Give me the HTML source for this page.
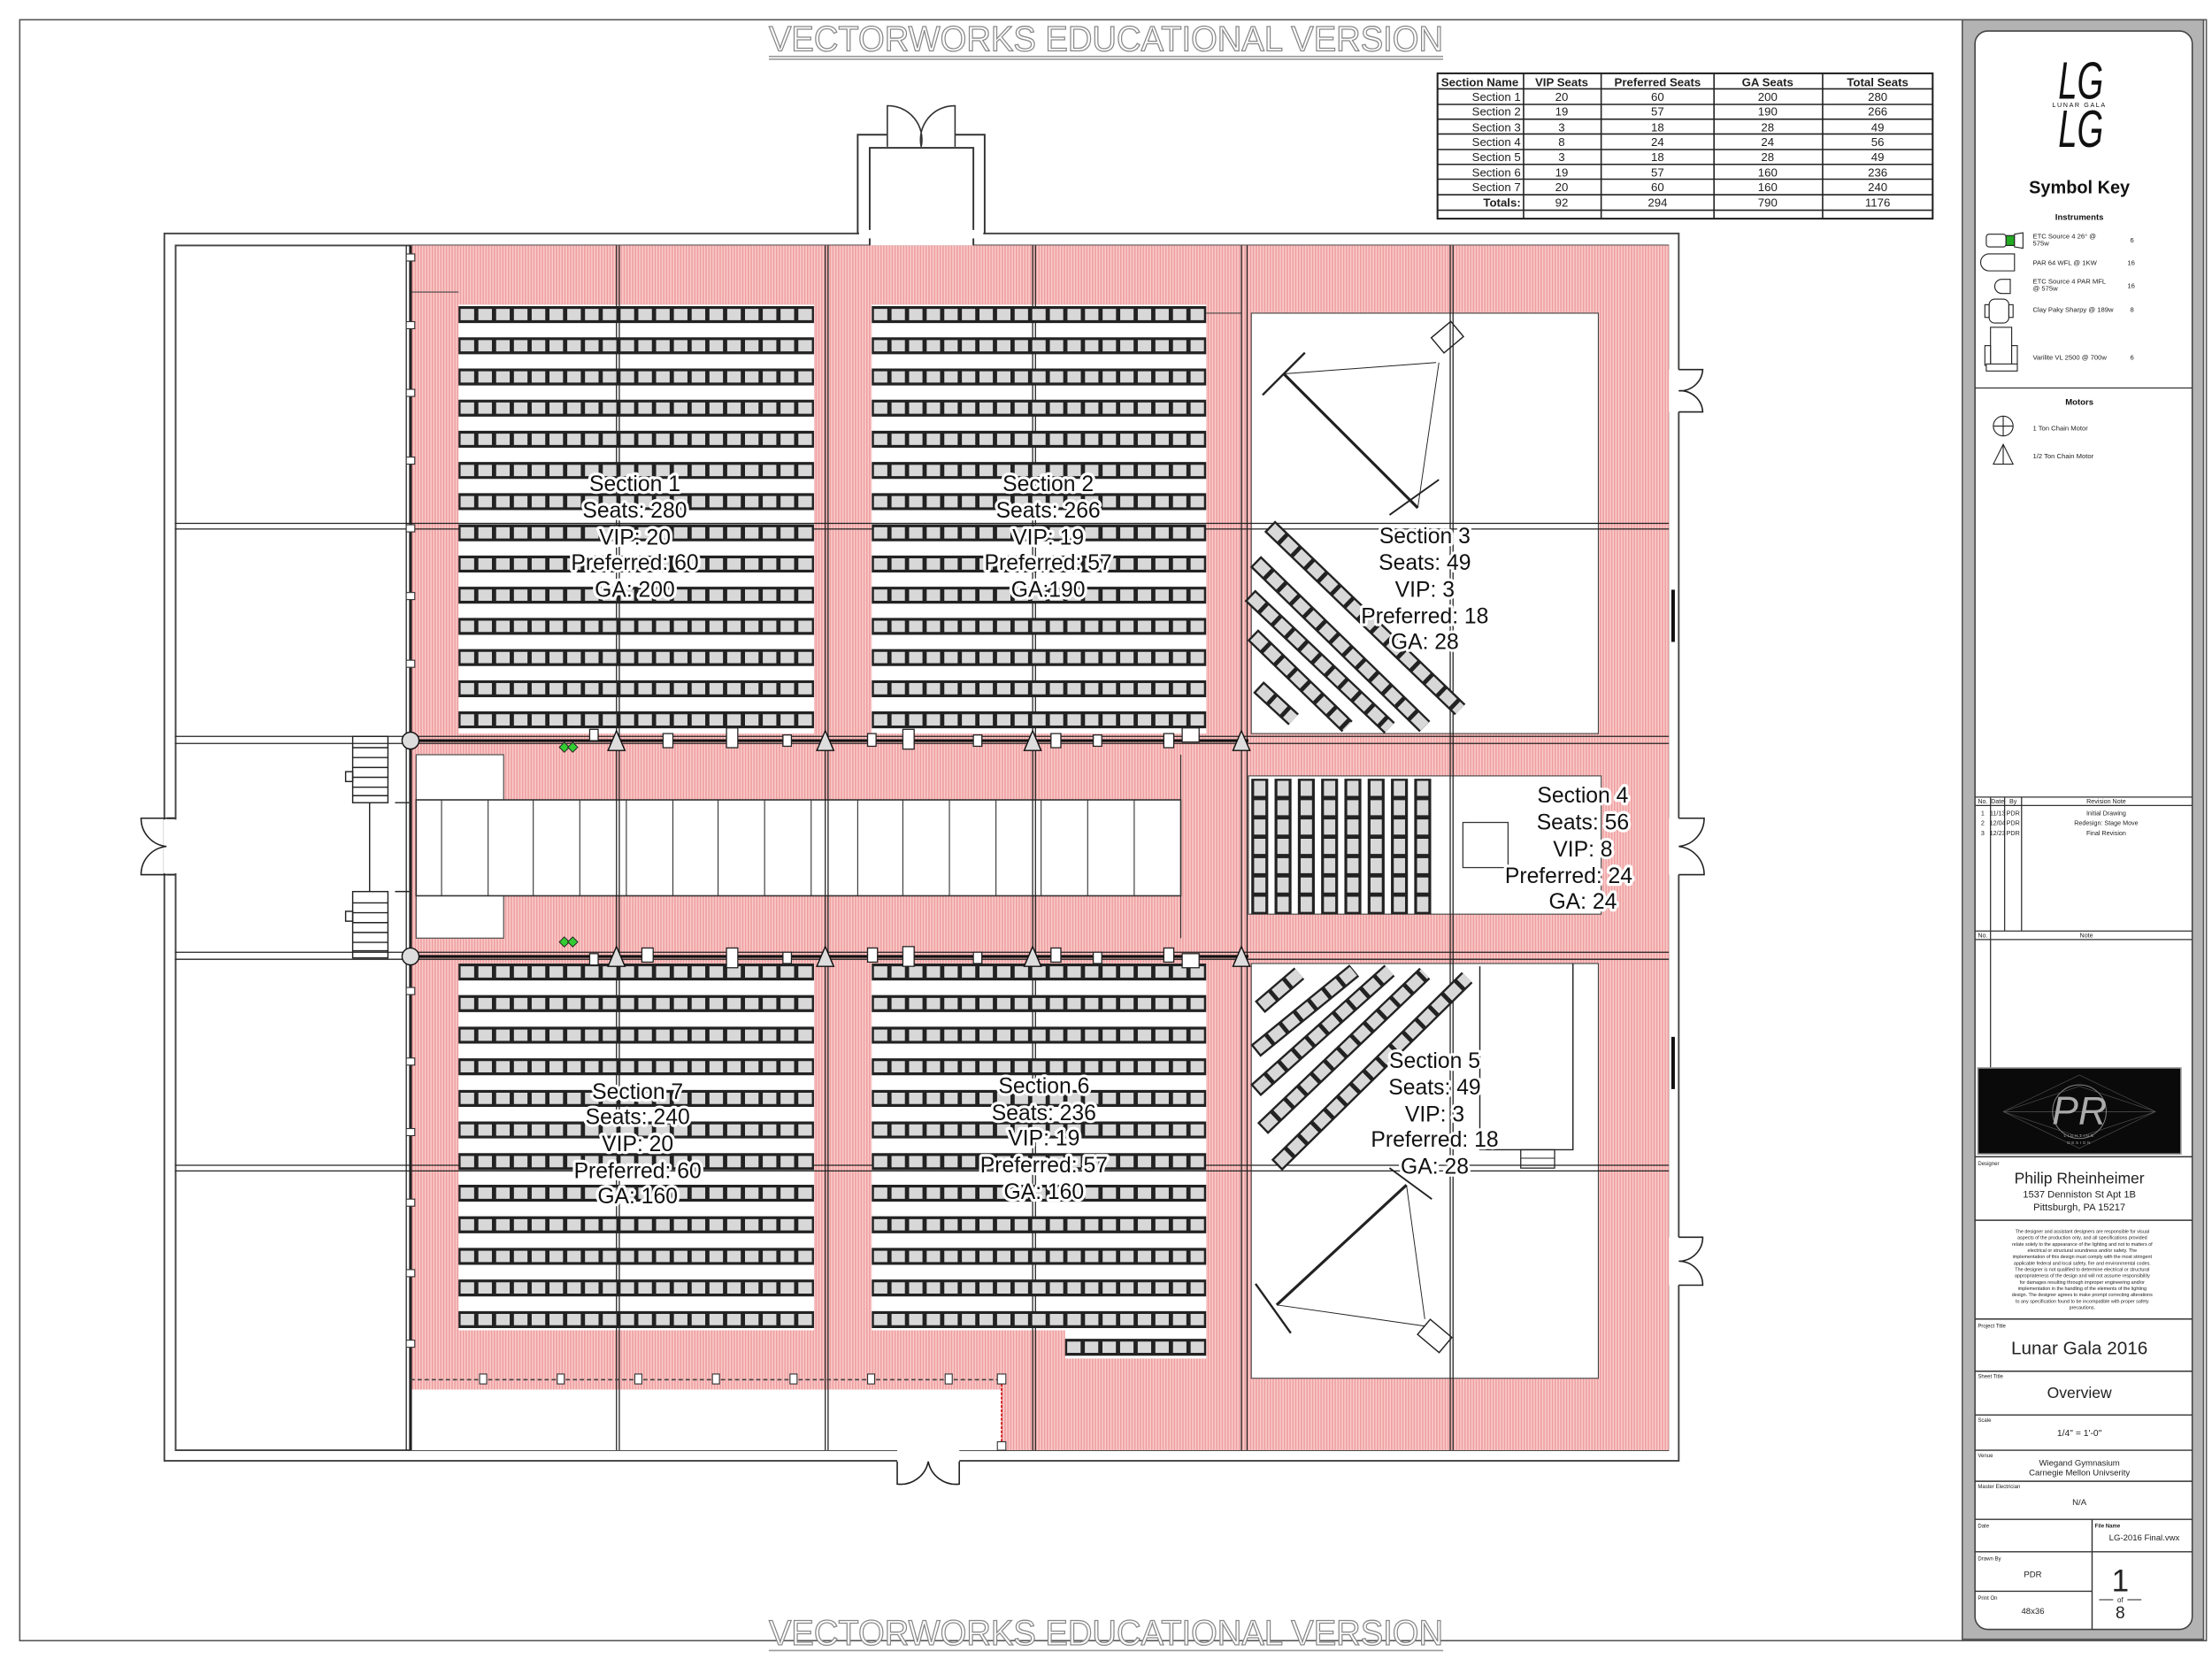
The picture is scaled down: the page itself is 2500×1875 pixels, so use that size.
<!DOCTYPE html>
<html><head><meta charset="utf-8"><style>
html,body{margin:0;padding:0;background:#fff;}
svg{display:block;}
text{font-family:"Liberation Sans",Arial,sans-serif;}
</style></head><body>
<svg width="2500" height="1875" viewBox="0 0 1568 1176" xmlns="http://www.w3.org/2000/svg">
<defs>
<pattern id="pk" width="2" height="4" patternUnits="userSpaceOnUse">
<rect width="2" height="4" fill="#f9cccc"/><rect width="1" height="4" fill="#ef9e9e"/>
</pattern>
<g id="r1"><line x1="325" y1="0" x2="577" y2="0" stroke="#222" stroke-width="12"/><line x1="325" y1="0" x2="577" y2="0" stroke="#d8d8d8" stroke-width="8" stroke-dasharray="9.6 3" stroke-dashoffset="-1.5"/></g>
<g id="r2"><line x1="618" y1="0" x2="855" y2="0" stroke="#222" stroke-width="12"/><line x1="618" y1="0" x2="855" y2="0" stroke="#d8d8d8" stroke-width="8" stroke-dasharray="9.47 3" stroke-dashoffset="-1.5"/></g>
<g id="c4"><line x1="0" y1="552" x2="0" y2="648" stroke="#222" stroke-width="12"/><line x1="0" y1="552" x2="0" y2="648" stroke="#d8d8d8" stroke-width="8" stroke-dasharray="10.7 3" stroke-dashoffset="-1.5"/></g>
</defs>
<rect width="1568" height="1176" fill="#fff"/>
<rect x="14" y="14" width="1550" height="1149" fill="none" stroke="#555" stroke-width="1"/>

<g fill="#fff" stroke="#888" stroke-width="0.8">
<text x="545" y="36" font-size="25" textLength="478" lengthAdjust="spacingAndGlyphs">VECTORWORKS EDUCATIONAL VERSION</text>
<text x="545" y="1166" font-size="25" textLength="478" lengthAdjust="spacingAndGlyphs">VECTORWORKS EDUCATIONAL VERSION</text>
</g>
<g stroke="#999" stroke-width="1"><line x1="545" y1="40" x2="1023" y2="40"/><line x1="545" y1="42" x2="1023" y2="42"/><line x1="545" y1="1170" x2="1023" y2="1170"/></g>

<rect x="116.5" y="165.5" width="1073.5" height="870" fill="none" stroke="#444" stroke-width="1.2"/>
<rect x="124.5" y="174" width="1058" height="854" fill="#fff" stroke="#444" stroke-width="1.2"/>
<path d="M608 166 V95.5 H629 M677 95.5 H698 V166" fill="none" stroke="#333" stroke-width="1.2"/>
<path d="M616.5 174 V104.8 H690 V174" fill="#fff" stroke="#333" stroke-width="1.2"/>
<rect x="609" y="163" width="88" height="6" fill="#fff"/>
<path d="M629 104 V75 A24 24 0 0 1 653 104 M677 104 V75 A24 24 0 0 0 653 104" fill="none" stroke="#333" stroke-width="1"/>

<rect x="291" y="174" width="892" height="854" fill="url(#pk)"/>
<rect x="887" y="222" width="246" height="298" fill="#fff" stroke="#444" stroke-width="0.7"/>
<rect x="887" y="683" width="246" height="294" fill="#fff" stroke="#444" stroke-width="0.7"/>
<rect x="885" y="550" width="250" height="98" fill="#fff" stroke="#444" stroke-width="0.7"/>
<rect x="291" y="985" width="419" height="43" fill="#fff"/>
<rect x="325" y="216" width="252" height="304" fill="#fff"/>
<rect x="618" y="216" width="237" height="304" fill="#fff"/>
<rect x="325" y="683" width="252" height="260" fill="#fff"/>
<rect x="618" y="683" width="237" height="260" fill="#fff"/>
<rect x="755" y="943" width="100" height="20" fill="#fff"/>
<path d="M292 207 H325 M855 222 H880" stroke="#444" stroke-width="0.7"/>
<rect x="295" y="535" width="62" height="32" fill="#fff" stroke="#444" stroke-width="0.7"/>
<rect x="295" y="635" width="62" height="30" fill="#fff" stroke="#444" stroke-width="0.7"/>
<rect x="295" y="567" width="542" height="68" fill="#fff" stroke="#333" stroke-width="1"/>
<g stroke="#333" stroke-width="0.7">
<line x1="313" y1="567" x2="313" y2="635"/><line x1="346" y1="567" x2="346" y2="635"/><line x1="378" y1="567" x2="378" y2="635"/><line x1="411" y1="567" x2="411" y2="635"/><line x1="444" y1="567" x2="444" y2="635"/><line x1="477" y1="567" x2="477" y2="635"/><line x1="509" y1="567" x2="509" y2="635"/><line x1="542" y1="567" x2="542" y2="635"/><line x1="575" y1="567" x2="575" y2="635"/><line x1="608" y1="567" x2="608" y2="635"/><line x1="640" y1="567" x2="640" y2="635"/><line x1="673" y1="567" x2="673" y2="635"/><line x1="706" y1="567" x2="706" y2="635"/><line x1="738" y1="567" x2="738" y2="635"/><line x1="771" y1="567" x2="771" y2="635"/><line x1="804" y1="567" x2="804" y2="635"/>
<line x1="837" y1="535" x2="837" y2="665"/>
</g>

<g stroke="#222" stroke-width="0.8" fill="none">
<line x1="437" y1="174" x2="437" y2="1028"/><line x1="439" y1="174" x2="439" y2="1028"/>
<line x1="585" y1="174" x2="585" y2="1028"/><line x1="587" y1="174" x2="587" y2="1028"/>
<line x1="732" y1="174" x2="732" y2="1028"/><line x1="734" y1="174" x2="734" y2="1028"/>
<line x1="880" y1="174" x2="880" y2="1028"/><line x1="884" y1="174" x2="884" y2="1028"/>
<line x1="1028" y1="174" x2="1028" y2="1028"/><line x1="1030" y1="174" x2="1030" y2="1028"/>
<line x1="124" y1="371" x2="1183" y2="371"/><line x1="124" y1="375" x2="1183" y2="375"/>
<line x1="124" y1="826" x2="1183" y2="826"/><line x1="124" y1="830" x2="1183" y2="830"/>
<line x1="124" y1="522" x2="1183" y2="522"/><line x1="124" y1="527" x2="1183" y2="527"/>
<line x1="124" y1="675" x2="1183" y2="675"/><line x1="124" y1="680" x2="1183" y2="680"/>
<line x1="288" y1="174" x2="288" y2="1028"/>
</g>
<line x1="291" y1="174" x2="291" y2="1028" stroke="#222" stroke-width="2"/>
<line x1="291" y1="978" x2="710" y2="978" stroke="#444" stroke-width="1" stroke-dasharray="3 2"/>
<line x1="710" y1="978" x2="710" y2="1028" stroke="#c00" stroke-width="1" stroke-dasharray="2 1"/>
<g fill="#fff" stroke="#333" stroke-width="0.7">
<rect x="288" y="180" width="6" height="5"/><rect x="288" y="228" width="6" height="5"/><rect x="288" y="276" width="6" height="5"/><rect x="288" y="324" width="6" height="5"/><rect x="288" y="372" width="6" height="5"/><rect x="288" y="420" width="6" height="5"/><rect x="288" y="468" width="6" height="5"/><rect x="288" y="700" width="6" height="5"/><rect x="288" y="750" width="6" height="5"/><rect x="288" y="800" width="6" height="5"/><rect x="288" y="850" width="6" height="5"/><rect x="288" y="900" width="6" height="5"/><rect x="288" y="950" width="6" height="5"/>
<rect x="340" y="974" width="5" height="7"/><rect x="395" y="974" width="5" height="7"/><rect x="450" y="974" width="5" height="7"/><rect x="505" y="974" width="5" height="7"/><rect x="560" y="974" width="5" height="7"/><rect x="615" y="974" width="5" height="7"/><rect x="670" y="974" width="5" height="7"/><rect x="707" y="974" width="6" height="7"/><rect x="707" y="1022" width="6" height="6"/>
</g>

<use href="#r1" y="223"/><use href="#r1" y="245.1"/><use href="#r1" y="267.2"/><use href="#r1" y="289.3"/><use href="#r1" y="311.4"/><use href="#r1" y="333.5"/><use href="#r1" y="355.6"/><use href="#r1" y="377.7"/><use href="#r1" y="399.8"/><use href="#r1" y="421.9"/><use href="#r1" y="444"/><use href="#r1" y="466.1"/><use href="#r1" y="488.2"/><use href="#r1" y="510.3"/>
<use href="#r2" y="223"/><use href="#r2" y="245.1"/><use href="#r2" y="267.2"/><use href="#r2" y="289.3"/><use href="#r2" y="311.4"/><use href="#r2" y="333.5"/><use href="#r2" y="355.6"/><use href="#r2" y="377.7"/><use href="#r2" y="399.8"/><use href="#r2" y="421.9"/><use href="#r2" y="444"/><use href="#r2" y="466.1"/><use href="#r2" y="488.2"/><use href="#r2" y="510.3"/>
<use href="#r1" y="689"/><use href="#r1" y="711.4"/><use href="#r1" y="733.8"/><use href="#r1" y="756.2"/><use href="#r1" y="778.6"/><use href="#r1" y="801"/><use href="#r1" y="823.4"/><use href="#r1" y="845.8"/><use href="#r1" y="868.2"/><use href="#r1" y="890.6"/><use href="#r1" y="913"/><use href="#r1" y="935.4"/>
<use href="#r2" y="689"/><use href="#r2" y="711.4"/><use href="#r2" y="733.8"/><use href="#r2" y="756.2"/><use href="#r2" y="778.6"/><use href="#r2" y="801"/><use href="#r2" y="823.4"/><use href="#r2" y="845.8"/><use href="#r2" y="868.2"/><use href="#r2" y="890.6"/><use href="#r2" y="913"/><use href="#r2" y="935.4"/>
<line x1="755" y1="955" x2="855" y2="955" stroke="#222" stroke-width="12"/><line x1="755" y1="955" x2="855" y2="955" stroke="#d8d8d8" stroke-width="8" stroke-dasharray="9.5 3" stroke-dashoffset="-1.5"/>
<use href="#c4" x="893"/><use href="#c4" x="909.5"/><use href="#c4" x="926"/><use href="#c4" x="942.5"/><use href="#c4" x="959"/><use href="#c4" x="975.5"/><use href="#c4" x="992"/><use href="#c4" x="1008.5"/>
<rect x="1037" y="583" width="32" height="32" fill="#fff" stroke="#333" stroke-width="0.8"/>

<g stroke-linecap="butt">
<g stroke="#222" stroke-width="11">
<line x1="900" y1="373" x2="1035" y2="503"/><line x1="890" y1="398" x2="1010" y2="515"/><line x1="886" y1="422" x2="985" y2="516"/><line x1="888" y1="450" x2="955" y2="515"/><line x1="892" y1="487" x2="917" y2="510"/>
<line x1="905" y1="826" x2="1040" y2="693"/><line x1="895" y1="800" x2="1010" y2="690"/><line x1="890" y1="773" x2="985" y2="688"/><line x1="890" y1="745" x2="960" y2="688"/><line x1="893" y1="714" x2="921" y2="690"/>
</g>
<g stroke="#d8d8d8" stroke-width="8" stroke-dasharray="10 3" stroke-dashoffset="-1.5">
<line x1="900" y1="373" x2="1035" y2="503"/><line x1="890" y1="398" x2="1010" y2="515"/><line x1="886" y1="422" x2="985" y2="516"/><line x1="888" y1="450" x2="955" y2="515"/><line x1="892" y1="487" x2="917" y2="510"/>
<line x1="905" y1="826" x2="1040" y2="693"/><line x1="895" y1="800" x2="1010" y2="690"/><line x1="890" y1="773" x2="985" y2="688"/><line x1="890" y1="745" x2="960" y2="688"/><line x1="893" y1="714" x2="921" y2="690"/>
</g></g>
<g fill="none" stroke="#222">
<path d="M910 265 L1005 360" stroke-width="2"/><path d="M895 280 L925 250" stroke-width="1.5"/><path d="M985 365 L1020 340" stroke-width="1.2"/>
<path d="M910 265 L1018 257 M1005 360 L1020 257" stroke-width="0.6"/>
<rect x="1017" y="232" width="18" height="14" transform="rotate(-40 1026 239)" stroke-width="0.9"/>
<path d="M905 925 L997 840" stroke-width="2"/><path d="M890 910 L915 945" stroke-width="1.5"/><path d="M985 828 L1015 850" stroke-width="1.2"/>
<path d="M905 925 L1010 940 M997 840 L1010 935" stroke-width="0.6"/>
<rect x="1007" y="940" width="20" height="14" transform="rotate(40 1017 947)" stroke-width="0.9"/>
<path d="M1049 685 V815 H1115 V683" stroke-width="0.9"/><rect x="1078" y="815" width="24" height="13" stroke-width="0.8"/><line x1="1078" y1="821" x2="1102" y2="821" stroke-width="0.6"/>
</g>

<g stroke="#111" stroke-width="2"><line x1="290" y1="525" x2="885" y2="525"/><line x1="290" y1="678" x2="885" y2="678"/></g>
<g fill="#fff" stroke="#222" stroke-width="0.8">
<rect x="418" y="517" width="6" height="8"/><rect x="470" y="520" width="7" height="10"/><rect x="515" y="516" width="8" height="14"/><rect x="555" y="521" width="6" height="8"/><rect x="615" y="520" width="6" height="9"/><rect x="640" y="517" width="8" height="14"/><rect x="690" y="521" width="6" height="8"/><rect x="745" y="520" width="7" height="10"/><rect x="775" y="521" width="6" height="8"/><rect x="825" y="520" width="7" height="10"/><rect x="838" y="516" width="12" height="10"/>
<rect x="418" y="676" width="6" height="8"/><rect x="455" y="672" width="8" height="10"/><rect x="515" y="672" width="8" height="14"/><rect x="555" y="675" width="6" height="8"/><rect x="615" y="672" width="7" height="10"/><rect x="640" y="671" width="8" height="14"/><rect x="690" y="675" width="6" height="8"/><rect x="745" y="672" width="7" height="10"/><rect x="775" y="675" width="6" height="8"/><rect x="825" y="672" width="7" height="10"/><rect x="838" y="676" width="12" height="10"/>
</g>
<g fill="#ddd" stroke="#111" stroke-width="0.9">
<path d="M437 518 L431 532 H443 Z"/><path d="M585 518 L579 532 H591 Z"/><path d="M732 518 L726 532 H738 Z"/><path d="M880 518 L874 532 H886 Z"/>
<path d="M437 671 L431 685 H443 Z"/><path d="M585 671 L579 685 H591 Z"/><path d="M732 671 L726 685 H738 Z"/><path d="M880 671 L874 685 H886 Z"/>
<circle cx="291" cy="525" r="6"/><circle cx="291" cy="678" r="6"/>
</g>
<g fill="#3c3" stroke="#222" stroke-width="0.6"><rect x="398" y="527" width="5" height="5" transform="rotate(45 400 529)"/><rect x="404" y="527" width="5" height="5" transform="rotate(45 406 529)"/><rect x="398" y="665" width="5" height="5" transform="rotate(45 400 667)"/><rect x="404" y="665" width="5" height="5" transform="rotate(45 406 667)"/></g>

<g stroke="#222" stroke-width="0.9" fill="none">
<rect x="250" y="522" width="25" height="47"/><rect x="250" y="632" width="25" height="47"/>
<path d="M250 530 H275 M250 537 H275 M250 544 H275 M250 551 H275 M250 558 H275 M250 564 H275 M250 640 H275 M250 647 H275 M250 654 H275 M250 661 H275 M250 668 H275 M250 674 H275"/>
<rect x="245" y="547" width="5" height="7"/><rect x="245" y="646" width="5" height="7"/>
<path d="M280 569 H290 M280 632 H290 M262 569 V632"/>
<rect x="116" y="581" width="10" height="38" fill="#fff" stroke="none"/>
<path d="M124 580 H118 M124 620 H118" stroke-width="1.2"/>
<path d="M118 580 H100 A20 20 0 0 0 118 600 A20 20 0 0 0 100 620 H118" stroke-width="1"/>
<rect x="636" y="1027" width="44" height="10" fill="#fff" stroke="none"/>
<path d="M636 1036 V1052 A20 20 0 0 0 658 1036 A20 20 0 0 0 680 1052 V1036" stroke-width="1"/>
<rect x="1183" y="262" width="9" height="30" fill="#fff" stroke="none"/>
<path d="M1190 262 H1207 A16 16 0 0 1 1190 277 A16 16 0 0 1 1207 292 H1190" stroke-width="1"/>
<rect x="1183" y="580" width="9" height="40" fill="#fff" stroke="none"/>
<path d="M1190 580 H1208 A20 20 0 0 1 1190 600 A20 20 0 0 1 1208 620 H1190" stroke-width="1"/>
<rect x="1183" y="877" width="9" height="34" fill="#fff" stroke="none"/>
<path d="M1190 877 H1207 A17 17 0 0 1 1190 894 A17 17 0 0 1 1207 911 H1190" stroke-width="1"/>
</g>
<g stroke="#111" stroke-width="2.5"><line x1="1186" y1="418" x2="1186" y2="455"/><line x1="1186" y1="735" x2="1186" y2="772"/></g>

<g font-size="15.5" text-anchor="middle" fill="#111" stroke="#fff" stroke-width="4" paint-order="stroke" stroke-linejoin="round">
<text x="450" y="348">Section 1</text><text x="450" y="367">Seats: 280</text><text x="450" y="386">VIP: 20</text><text x="450" y="404">Preferred: 60</text><text x="450" y="423">GA: 200</text>
<text x="743" y="348">Section 2</text><text x="743" y="367">Seats: 266</text><text x="743" y="386">VIP: 19</text><text x="743" y="404">Preferred: 57</text><text x="743" y="423">GA:190</text>
<text x="1010" y="385">Section 3</text><text x="1010" y="404">Seats: 49</text><text x="1010" y="423">VIP: 3</text><text x="1010" y="442">Preferred: 18</text><text x="1010" y="460">GA: 28</text>
<text x="1122" y="569">Section 4</text><text x="1122" y="588">Seats: 56</text><text x="1122" y="607">VIP: 8</text><text x="1112" y="626">Preferred: 24</text><text x="1122" y="644">GA: 24</text>
<text x="1017" y="757">Section 5</text><text x="1017" y="776">Seats: 49</text><text x="1017" y="795">VIP: 3</text><text x="1017" y="813">Preferred: 18</text><text x="1017" y="832">GA: 28</text>
<text x="740" y="775">Section 6</text><text x="740" y="794">Seats: 236</text><text x="740" y="812">VIP: 19</text><text x="740" y="831">Preferred: 57</text><text x="740" y="850">GA: 160</text>
<text x="452" y="779">Section 7</text><text x="452" y="797">Seats: 240</text><text x="452" y="816">VIP: 20</text><text x="452" y="835">Preferred: 60</text><text x="452" y="853">GA: 160</text>
</g>

<g stroke="#222" stroke-width="1" fill="none">
<rect x="1019" y="52" width="351" height="103" stroke-width="1.3"/>
<path d="M1019 63 H1370 M1019 74 H1370 M1019 84.5 H1370 M1019 95 H1370 M1019 106 H1370 M1019 116.5 H1370 M1019 127 H1370 M1019 138 H1370 M1019 149 H1370"/>
<path d="M1080 52 V155 M1135 52 V155 M1215 52 V155 M1292 52 V155"/>
</g>
<g font-size="8.3" fill="#222" text-anchor="middle">
<g font-weight="bold"><text x="1049" y="61">Section Name</text><text x="1107" y="61">VIP Seats</text><text x="1175" y="61">Preferred Seats</text><text x="1253" y="61">GA Seats</text><text x="1331" y="61">Total Seats</text></g>
<g text-anchor="end"><text x="1078" y="71.5">Section 1</text><text x="1078" y="82">Section 2</text><text x="1078" y="93">Section 3</text><text x="1078" y="103.5">Section 4</text><text x="1078" y="114">Section 5</text><text x="1078" y="125">Section 6</text><text x="1078" y="135.5">Section 7</text><text x="1078" y="146.5" font-weight="bold">Totals:</text></g>
<text x="1107" y="71.5">20</text><text x="1175" y="71.5">60</text><text x="1253" y="71.5">200</text><text x="1331" y="71.5">280</text>
<text x="1107" y="82">19</text><text x="1175" y="82">57</text><text x="1253" y="82">190</text><text x="1331" y="82">266</text>
<text x="1107" y="93">3</text><text x="1175" y="93">18</text><text x="1253" y="93">28</text><text x="1331" y="93">49</text>
<text x="1107" y="103.5">8</text><text x="1175" y="103.5">24</text><text x="1253" y="103.5">24</text><text x="1331" y="103.5">56</text>
<text x="1107" y="114">3</text><text x="1175" y="114">18</text><text x="1253" y="114">28</text><text x="1331" y="114">49</text>
<text x="1107" y="125">19</text><text x="1175" y="125">57</text><text x="1253" y="125">160</text><text x="1331" y="125">236</text>
<text x="1107" y="135.5">20</text><text x="1175" y="135.5">60</text><text x="1253" y="135.5">160</text><text x="1331" y="135.5">240</text>
<text x="1107" y="146.5">92</text><text x="1175" y="146.5">294</text><text x="1253" y="146.5">790</text><text x="1331" y="146.5">1176</text>
</g>

<rect x="1391" y="14" width="171" height="1148" fill="#b3b3b3" stroke="#555" stroke-width="1"/>
<rect x="1400" y="22" width="154" height="1133" rx="9" fill="#fff" stroke="#444" stroke-width="1"/>
<g fill="#111" text-anchor="middle">
<text x="1475" y="70" font-size="30" font-family="Liberation Serif" font-style="italic" transform="translate(1475 70) scale(0.8 1.25) translate(-1475 -70)">LG</text>
<text x="1474" y="76" font-size="4.5" letter-spacing="1">LUNAR GALA</text>
<text x="1475" y="104" font-size="30" font-family="Liberation Serif" font-style="italic" transform="translate(1475 104) scale(0.8 1.25) translate(-1475 -104)">LG</text>
<text x="1474" y="137" font-size="12.5" font-weight="bold">Symbol Key</text>
<text x="1474" y="156" font-size="6" font-weight="bold">Instruments</text>
<text x="1474" y="287" font-size="6" font-weight="bold">Motors</text>
</g>
<g font-size="4.8" fill="#222">
<text x="1441" y="169">ETC Source 4 26° @</text><text x="1441" y="174">575w</text><text x="1510" y="172">6</text>
<text x="1441" y="188">PAR 64 WFL @ 1KW</text><text x="1508" y="188">16</text>
<text x="1441" y="201">ETC Source 4 PAR MFL</text><text x="1441" y="206">@ 575w</text><text x="1508" y="204">16</text>
<text x="1441" y="221">Clay Paky Sharpy @ 189w</text><text x="1510" y="221">8</text>
<text x="1441" y="255">Varilite VL 2500 @ 700w</text><text x="1510" y="255">6</text>
<text x="1441" y="305">1 Ton Chain Motor</text>
<text x="1441" y="325">1/2 Ton Chain Motor</text>
</g>
<g fill="#fff" stroke="#222" stroke-width="0.7">
<rect x="1408" y="166" width="14" height="9" rx="2"/><rect x="1422" y="167" width="6" height="7" fill="#2a2"/><path d="M1428 166 L1434 165 V176 L1428 175Z"/>
<path d="M1410 180 H1428 V192 H1410 A6 6 0 0 1 1410 180Z"/>
<path d="M1425 198 V208 H1419 A5 5 0 0 1 1419 198Z"/>
<rect x="1410" y="212" width="14" height="17" rx="4"/><rect x="1407" y="216" width="3" height="9"/><rect x="1424" y="216" width="3" height="9"/>
<rect x="1411" y="232" width="15" height="30"/><rect x="1407" y="245" width="4" height="14"/><rect x="1426" y="245" width="4" height="14"/><rect x="1408" y="258" width="22" height="5"/>
<circle cx="1420" cy="302" r="7"/><path d="M1420 295 V309 M1413 302 H1427" />
<path d="M1420 315 L1413 329 H1427Z"/><path d="M1420 315 V329"/>
</g>
<line x1="1400" y1="275" x2="1554" y2="275" stroke="#333" stroke-width="0.8"/>
<g stroke="#333" stroke-width="0.8" fill="none">
<path d="M1400 565 H1554 M1400 571 H1554 M1400 660 H1554 M1400 666 H1554"/>
<path d="M1411 565 V660 M1421 565 V660 M1433 565 V660 M1411 660 V757"/>
</g>
<g font-size="4.5" fill="#222" text-anchor="middle">
<text x="1405.5" y="569.5">No.</text><text x="1416" y="569.5">Date</text><text x="1427" y="569.5">By</text><text x="1493" y="569.5">Revision Note</text>
<text x="1405.5" y="578">1</text><text x="1416" y="578">11/13</text><text x="1427" y="578">PDR</text><text x="1493" y="578">Initial Drawing</text>
<text x="1405.5" y="585">2</text><text x="1416" y="585">12/04</text><text x="1427" y="585">PDR</text><text x="1493" y="585">Redesign: Stage Move</text>
<text x="1405.5" y="592">3</text><text x="1416" y="592">12/23</text><text x="1427" y="592">PDR</text><text x="1493" y="592">Final Revision</text>
<text x="1405.5" y="664.5">No.</text><text x="1479" y="664.5">Note</text>
</g>
<rect x="1402" y="757" width="144" height="61" fill="#0a0a0a" stroke="#999" stroke-width="1"/>
<g stroke="#555" stroke-width="0.4" fill="none">
<path d="M1420 788 L1474 762 L1528 788 L1474 814 Z"/><path d="M1420 788 L1528 788 M1420 788 L1474 770 M1528 788 L1474 806 M1420 788 L1474 806 M1528 788 L1474 770"/>
<circle cx="1474" cy="788" r="19" stroke="#888" stroke-width="0.6"/>
</g>
<text x="1474" y="797" font-size="28" fill="#aaa" text-anchor="middle" font-style="italic">PR</text>
<text x="1474" y="806" font-size="3" fill="#aaa" text-anchor="middle" letter-spacing="1">LIGHTING</text>
<text x="1474" y="811" font-size="3" fill="#aaa" text-anchor="middle" letter-spacing="1">DESIGN</text>
<g stroke="#333" stroke-width="0.9" fill="none">
<path d="M1400 820 H1554 M1400 865 H1554 M1400 935 H1554 M1400 972 H1554 M1400 1003 H1554 M1400 1028 H1554 M1400 1050 H1554 M1400 1077 H1554 M1400 1100 H1554 M1400 1128 H1483 M1483 1077 V1155"/>
</g>
<g font-size="3.8" fill="#222">
<text x="1402" y="826">Designer</text><text x="1402" y="941">Project Title</text><text x="1402" y="977">Sheet Title</text><text x="1402" y="1008">Scale</text><text x="1402" y="1033">Venue</text><text x="1402" y="1055">Master Electrician</text><text x="1402" y="1083">Date</text><text x="1485" y="1083" font-weight="bold">File Name</text><text x="1402" y="1106">Drawn By</text><text x="1402" y="1134">Print On</text>
</g>
<g fill="#222" text-anchor="middle">
<text x="1474" y="839" font-size="11">Philip Rheinheimer</text>
<text x="1474" y="849" font-size="7">1537 Denniston St Apt 1B</text>
<text x="1474" y="858" font-size="7">Pittsburgh, PA 15217</text>
<g font-size="3.4"><text x="1476" y="874">The designer and assistant designers are responsible for visual</text><text x="1476" y="878.5">aspects of the production only, and all specifications provided</text><text x="1476" y="883">relate solely to the appearance of the lighting and not to matters of</text><text x="1476" y="887.5">electrical or structural soundness and/or safety. The</text><text x="1476" y="892">implementation of this design must comply with the most stringent</text><text x="1476" y="896.5">applicable federal and local safety, fire and environmental codes.</text><text x="1476" y="901">The designer is not qualified to determine electrical or structural</text><text x="1476" y="905.5">appropriateness of the design and will not assume responsibility</text><text x="1476" y="910">for damages resulting through improper engineering and/or</text><text x="1476" y="914.5">implementation in the handling of the elements of the lighting</text><text x="1476" y="919">design. The designer agrees to make prompt correcting alterations</text><text x="1476" y="923.5">to any specification found to be incompatible with proper safety</text><text x="1476" y="928">precautions.</text></g>
<text x="1474" y="960" font-size="13">Lunar Gala 2016</text>
<text x="1474" y="991" font-size="11">Overview</text>
<text x="1474" y="1018" font-size="6.5">1/4" = 1'-0"</text>
<text x="1474" y="1039" font-size="6">Wiegand Gymnasium</text>
<text x="1474" y="1046" font-size="6">Carnegie Mellon Univserity</text>
<text x="1474" y="1067" font-size="6">N/A</text>
<text x="1520" y="1092" font-size="6">LG-2016 Final.vwx</text>
<text x="1441" y="1118" font-size="6">PDR</text>
<text x="1441" y="1144" font-size="6">48x36</text>
<text x="1503" y="1128" font-size="22">1</text>
<text x="1503" y="1136" font-size="5">of</text>
<text x="1503" y="1147" font-size="12">8</text>
</g>
<path d="M1488 1134 H1498 M1508 1134 H1518" stroke="#222" stroke-width="0.6"/>
</svg>
</body></html>
